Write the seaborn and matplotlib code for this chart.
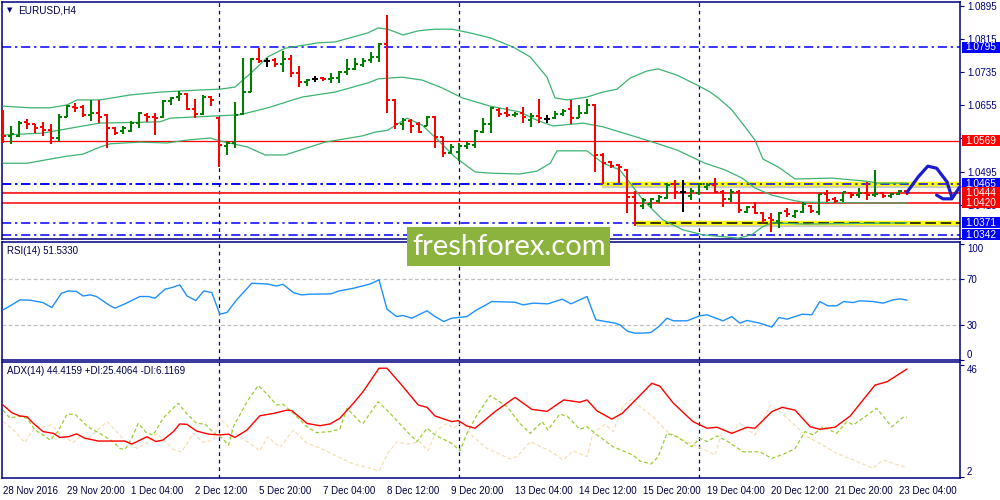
import numpy as np
import pandas as pd
import matplotlib
matplotlib.use('Agg')
import matplotlib.pyplot as plt
import matplotlib.transforms as mtransforms
from matplotlib.patches import Rectangle
import seaborn as sns

sns.set_style('white')
plt.rcParams['font.family'] = ['Liberation Sans', 'DejaVu Sans']

# ---------------- data (EURUSD H4) ----------------
opens = [1.0639, 1.0581, 1.0581, 1.0615, 1.0610, 1.0603, 1.0595, 1.0576, 1.0627, 1.0651,
         1.0651, 1.0632, 1.0636, 1.0632, 1.0600, 1.0593, 1.0593, 1.0612, 1.0632, 1.0627,
         1.0627, 1.0665, 1.0675, 1.0682, 1.0646, 1.0634, 1.0675, 1.0624, 1.0557, 1.0564,
         1.0634, 1.0687, 1.0767, 1.0762, 1.0764, 1.0755, 1.0767, 1.0733, 1.0711, 1.0719,
         1.0721, 1.0719, 1.0721, 1.0735, 1.0743, 1.0752, 1.0764, 1.0772, 1.0803, 1.0668,
         1.0610, 1.0617, 1.0610, 1.0605, 1.0627, 1.0578, 1.0540, 1.0542, 1.0557, 1.0559,
         1.0590, 1.0610, 1.0644, 1.0636, 1.0632, 1.0636, 1.0619, 1.0629, 1.0622, 1.0624,
         1.0634, 1.0646, 1.0624, 1.0636, 1.0656, 1.0535, 1.0518, 1.0511, 1.0499, 1.0433,
         1.0412, 1.0417, 1.0424, 1.0431, 1.0465, 1.0445, 1.0436, 1.0443, 1.0458, 1.0462,
         1.0445, 1.0429, 1.0445, 1.0397, 1.0409, 1.0395, 1.0383, 1.0375, 1.0400, 1.0387,
         1.0397, 1.0412, 1.0397, 1.0441, 1.0429, 1.0426, 1.0443, 1.0438, 1.0443, 1.0438,
         1.0443, 1.0436, 1.0441, 1.0448]
highs = [1.0644, 1.0605, 1.0617, 1.0622, 1.0610, 1.0615, 1.0610, 1.0634, 1.0656, 1.0661,
         1.0656, 1.0668, 1.0668, 1.0634, 1.0603, 1.0605, 1.0617, 1.0639, 1.0636, 1.0636,
         1.0668, 1.0675, 1.0690, 1.0685, 1.0670, 1.0680, 1.0677, 1.0627, 1.0566, 1.0663,
         1.0769, 1.0769, 1.0793, 1.0769, 1.0769, 1.0786, 1.0777, 1.0750, 1.0719, 1.0726,
         1.0723, 1.0733, 1.0738, 1.0767, 1.0769, 1.0769, 1.0784, 1.0806, 1.0873, 1.0670,
         1.0624, 1.0622, 1.0615, 1.0629, 1.0629, 1.0578, 1.0562, 1.0564, 1.0566, 1.0595,
         1.0624, 1.0651, 1.0649, 1.0651, 1.0639, 1.0651, 1.0636, 1.0670, 1.0632, 1.0641,
         1.0646, 1.0668, 1.0656, 1.0670, 1.0658, 1.0540, 1.0520, 1.0513, 1.0501, 1.0448,
         1.0431, 1.0431, 1.0438, 1.0467, 1.0474, 1.0474, 1.0455, 1.0467, 1.0467, 1.0479,
         1.0450, 1.0453, 1.0450, 1.0412, 1.0421, 1.0397, 1.0395, 1.0397, 1.0407, 1.0402,
         1.0421, 1.0414, 1.0441, 1.0450, 1.0433, 1.0445, 1.0445, 1.0455, 1.0470, 1.0499,
         1.0445, 1.0443, 1.0450, 1.0450]
lows = [1.0564, 1.0562, 1.0578, 1.0598, 1.0588, 1.0581, 1.0562, 1.0569, 1.0627, 1.0639,
        1.0627, 1.0617, 1.0612, 1.0552, 1.0583, 1.0586, 1.0590, 1.0600, 1.0615, 1.0583,
        1.0624, 1.0656, 1.0665, 1.0644, 1.0624, 1.0632, 1.0653, 1.0506, 1.0535, 1.0552,
        1.0632, 1.0687, 1.0757, 1.0748, 1.0748, 1.0735, 1.0723, 1.0699, 1.0702, 1.0711,
        1.0714, 1.0709, 1.0709, 1.0728, 1.0740, 1.0748, 1.0757, 1.0760, 1.0636, 1.0598,
        1.0595, 1.0588, 1.0588, 1.0605, 1.0552, 1.0530, 1.0537, 1.0520, 1.0549, 1.0552,
        1.0588, 1.0588, 1.0627, 1.0627, 1.0627, 1.0612, 1.0603, 1.0612, 1.0612, 1.0622,
        1.0629, 1.0610, 1.0624, 1.0634, 1.0494, 1.0465, 1.0503, 1.0467, 1.0395, 1.0363,
        1.0404, 1.0407, 1.0419, 1.0429, 1.0429, 1.0397, 1.0426, 1.0438, 1.0450, 1.0443,
        1.0409, 1.0421, 1.0395, 1.0395, 1.0392, 1.0371, 1.0349, 1.0358, 1.0385, 1.0383,
        1.0395, 1.0395, 1.0390, 1.0421, 1.0419, 1.0421, 1.0431, 1.0431, 1.0426, 1.0433,
        1.0431, 1.0431, 1.0438, 1.0438]
closes = [1.0581, 1.0586, 1.0612, 1.0610, 1.0600, 1.0595, 1.0576, 1.0627, 1.0653, 1.0649,
          1.0632, 1.0636, 1.0627, 1.0600, 1.0588, 1.0600, 1.0612, 1.0636, 1.0627, 1.0624,
          1.0665, 1.0673, 1.0682, 1.0646, 1.0634, 1.0675, 1.0668, 1.0559, 1.0564, 1.0632,
          1.0687, 1.0767, 1.0762, 1.0762, 1.0755, 1.0767, 1.0733, 1.0711, 1.0716, 1.0719,
          1.0719, 1.0721, 1.0735, 1.0743, 1.0755, 1.0762, 1.0772, 1.0803, 1.0668, 1.0610,
          1.0619, 1.0605, 1.0590, 1.0627, 1.0578, 1.0540, 1.0554, 1.0557, 1.0562, 1.0593,
          1.0610, 1.0649, 1.0634, 1.0632, 1.0634, 1.0627, 1.0629, 1.0624, 1.0622, 1.0634,
          1.0641, 1.0624, 1.0636, 1.0656, 1.0535, 1.0515, 1.0508, 1.0506, 1.0433, 1.0419,
          1.0426, 1.0429, 1.0433, 1.0462, 1.0445, 1.0445, 1.0448, 1.0465, 1.0462, 1.0445,
          1.0429, 1.0445, 1.0402, 1.0409, 1.0395, 1.0378, 1.0378, 1.0395, 1.0392, 1.0400,
          1.0417, 1.0400, 1.0441, 1.0426, 1.0424, 1.0445, 1.0438, 1.0443, 1.0438, 1.0441,
          1.0436, 1.0441, 1.0448, 1.0443]

# Bollinger bands (bar index, price)
ub_idx = [0, 3.4, 5.9, 8, 9.25, 12.1, 15.9, 19.6, 24.6, 27.1, 29, 31.1, 33.1, 35.25, 39.4,
          41.5, 45.6, 46.9, 48.1, 50, 51.9, 54, 56.1, 58.4, 60.9, 63.75, 65.9, 68, 69, 70.5,
          73, 75, 76.75, 78.4, 80.5, 81.9, 84.25, 86.75, 88.4, 89.4, 91.1, 92.75, 94, 95, 96.9,
          99, 103.6, 107.75, 109.4, 113]
ub_val = [1.0653, 1.0649, 1.0649, 1.0656, 1.0668, 1.0668, 1.0680, 1.0687, 1.0692, 1.0694,
          1.0699, 1.0735, 1.0772, 1.0793, 1.0806, 1.0808, 1.0830, 1.0842, 1.0839, 1.0825,
          1.0835, 1.0839, 1.0839, 1.0830, 1.0818, 1.0796, 1.0772, 1.0723, 1.0673, 1.0668,
          1.0675, 1.0687, 1.0694, 1.0721, 1.0738, 1.0743, 1.0728, 1.0704, 1.0687, 1.0673,
          1.0644, 1.0603, 1.0571, 1.0525, 1.0506, 1.0477, 1.0479, 1.0472, 1.0467, 1.0467]
mb_idx = [0, 5, 10, 12.1, 19.6, 20.9, 26.25, 29.6, 33.1, 37.4, 41.5, 45.6, 46.9, 49.9, 52.4,
          54.9, 57.4, 60.9, 64.6, 66.75, 68.75, 72.5, 75, 78.4, 81.25, 84.25, 87.75, 90.25,
          92.4, 94, 96.1, 98.6, 99.9, 108.6, 113]
mb_val = [1.0583, 1.0588, 1.0605, 1.0612, 1.0615, 1.0624, 1.0629, 1.0632, 1.0649, 1.0675,
          1.0687, 1.0709, 1.0719, 1.0723, 1.0716, 1.0697, 1.0673, 1.0653, 1.0639, 1.0619,
          1.0605, 1.0612, 1.0603, 1.0583, 1.0566, 1.0547, 1.0515, 1.0499, 1.0479, 1.0455,
          1.0438, 1.0426, 1.0421, 1.0419, 1.0419]
lb_idx = [0, 3, 5.9, 8, 10, 12.1, 13.4, 17.1, 20.5, 23, 25.9, 27.1, 30.6, 32.75, 35.25, 40.25,
          44.9, 46.5, 48.1, 50.5, 52.4, 54, 56.5, 59, 60.9, 64.6, 66.75, 68.4, 69.25, 73, 75,
          77.1, 78.4, 80, 82.5, 85, 87.5, 91.9, 93.6, 94.9, 96.1, 100.25, 113]
lb_val = [1.0515, 1.0515, 1.0525, 1.0532, 1.0537, 1.0554, 1.0562, 1.0566, 1.0564, 1.0571,
          1.0576, 1.0569, 1.0554, 1.0535, 1.0535, 1.0566, 1.0581, 1.0590, 1.0595, 1.0624,
          1.0607, 1.0578, 1.0530, 1.0494, 1.0491, 1.0489, 1.0496, 1.0515, 1.0545, 1.0545,
          1.0515, 1.0499, 1.0467, 1.0426, 1.0378, 1.0354, 1.0342, 1.0334, 1.0342, 1.0361,
          1.0371, 1.0368, 1.0371]

# RSI(14)
rsi_idx = [0, 1.1, 2.1, 3.4, 5, 6.1, 7.3, 8.2, 9.2, 10, 10.9, 11.7, 13.4, 14, 15.25, 17.1,
           18.2, 19, 20.25, 21.1, 22.1, 23, 24.1, 25.1, 26.1, 27.1, 28, 29.2, 31.1, 33, 34.2,
           35, 36.3, 37.3, 38.4, 41, 42, 43.8, 45.9, 47, 48, 49.2, 50, 51.1, 53, 54, 55.1,
           56.1, 58, 59.2, 60, 61.1, 64, 65, 66.25, 68.1, 69.9, 71, 73, 74.1, 75.5, 76.5, 77.1,
           78.1, 79, 80, 81, 82, 83, 83.8, 85.5, 87.1, 88, 90, 91.1, 92.1, 93, 94.6, 96.1, 97,
           98, 99.9, 101.1, 102.1, 103.1, 104.2, 105.1, 106.25, 107.1, 108.75, 110, 111.25,
           112.1, 113]
rsi_val = [43.1, 47.4, 51.7, 51.4, 49.4, 45.1, 57.4, 59.4, 58.9, 55.1, 56.0, 54.6, 46.6, 44.6,
           48.3, 54.6, 54.6, 53.1, 60.9, 62.3, 64.6, 55.1, 51.1, 59.4, 58.0, 39.4, 40.9, 51.7,
           66.0, 65.4, 63.7, 65.1, 58.0, 56.0, 56.6, 56.9, 59.4, 61.7, 65.4, 68.9, 43.7, 37.4,
           38.3, 36.0, 42.3, 37.4, 33.1, 36.0, 37.4, 43.1, 46.0, 50.3, 49.7, 47.4, 48.9, 48.3,
           52.3, 48.3, 54.6, 34.6, 32.9, 31.7, 30.3, 24.6, 23.1, 23.1, 23.7, 28.9, 36.0, 33.7,
           33.7, 38.0, 38.9, 33.7, 37.4, 31.7, 34.0, 31.7, 28.3, 36.6, 35.1, 39.4, 38.9, 50.3,
           46.6, 46.6, 50.3, 49.4, 50.9, 50.3, 48.9, 51.7, 52.6, 51.5]

# ADX(14), +DI, -DI
adx_idx = [0, 1.1, 2.1, 3, 3.8, 5, 6.3, 7.1, 8.2, 9.2, 10.25, 11.9, 15.25, 16.1, 18, 19.1, 20,
           21.3, 22.1, 23, 24.2, 25.7, 27.1, 28.2, 29, 30.5, 32.1, 33.8, 35.5, 36.1, 38, 39.6,
           40.9, 42.1, 43.8, 45, 47, 48, 50, 51.9, 53, 54, 56.1, 56.9, 58, 59, 61.5, 64, 66.1,
           68, 70.1, 72.1, 73, 74.25, 76.1, 77.4, 81.1, 82.1, 83.8, 86.25, 88, 89.25, 91.1, 93,
           94, 96.1, 97.4, 99, 100.9, 102.1, 104, 105.9, 109, 110.5, 113]
adx_val = [30.3, 27.3, 26.0, 25.7, 23.1, 19.9, 19.2, 17.6, 17.9, 19.0, 17.3, 16.2, 16.2, 15.0,
           17.9, 16.0, 16.6, 19.9, 22.9, 22.7, 20.1, 18.9, 18.6, 18.9, 17.6, 20.5, 26.1, 27.0,
           28.3, 28.1, 23.1, 22.2, 22.9, 25.1, 31.0, 35.5, 44.7, 44.7, 37.5, 30.3, 29.4, 26.0,
           23.8, 24.2, 22.1, 21.2, 27.7, 33.3, 28.6, 27.8, 32.3, 31.4, 32.3, 28.0, 24.8, 27.0,
           38.8, 37.7, 31.0, 23.8, 21.2, 21.6, 19.2, 21.6, 21.2, 27.7, 29.4, 28.3, 21.8, 20.8,
           21.6, 26.0, 38.1, 39.4, 44.4]
pdi_idx = [0, 0.9, 1.9, 3, 4, 5, 5.9, 6.9, 8, 9, 10.6, 12.1, 13.8, 14.6, 15.25, 16.1, 16.9, 18,
           18.8, 20, 21.9, 23, 24.2, 25.25, 26.3, 27.4, 28.2, 28.8, 30.5, 31.9, 33, 34.2, 35,
           36.3, 38, 39.2, 40.9, 42.1, 43, 44.6, 45, 46.9, 48.4, 50.5, 51.75, 53, 54, 56.1,
           57.1, 58, 59.25, 60.9, 63, 64.6, 65.9, 67.4, 68.1, 69.6, 70.6, 72.1, 73, 74.25,
           76.25, 78.75, 79.6, 81, 81.9, 83, 84.25, 86.1, 87.1, 88, 89.25, 90.6, 92.5, 94.6,
           96.1, 98, 99, 100.25, 101.25, 102.5, 104.2, 105.5, 106.3, 109.2, 111.1, 112.5, 113]
pdi_val = [28.3, 25.1, 26.0, 25.1, 20.5, 18.6, 16.6, 20.1, 26.7, 26.7, 21.8, 19.2, 15.9, 13.3,
           12.9, 17.3, 23.1, 19.2, 18.6, 25.1, 31.0, 26.8, 23.1, 22.9, 19.5, 17.3, 14.6, 21.8,
           31.6, 37.9, 34.6, 30.3, 30.6, 27.0, 21.8, 19.5, 19.9, 20.9, 29.0, 23.8, 23.1, 31.6,
           27.0, 19.9, 16.0, 21.2, 18.6, 15.3, 12.4, 19.2, 26.4, 34.0, 29.7, 23.1, 19.2, 23.8,
           20.5, 26.8, 25.7, 20.8, 21.8, 18.6, 14.0, 10.7, 8.4, 7.2, 10.1, 19.2, 17.9, 14.0,
           17.3, 16.0, 18.2, 16.0, 12.0, 12.0, 9.4, 11.6, 13.3, 19.9, 18.6, 21.8, 19.2, 23.8,
           22.5, 29.0, 21.8, 25.5, 25.4]
mdi_idx = [0, 1.3, 2.75, 4, 5, 6.1, 7.1, 8.8, 9.6, 10.5, 13, 14.2, 15.5, 16.75, 18, 19.25, 21.3,
           22.3, 23.8, 25, 26.3, 27.1, 28.8, 30.5, 32.1, 33.1, 34.6, 36.3, 38, 39.6, 41.7, 43.8,
           45.5, 47, 48.1, 49.25, 50.5, 52.1, 53.1, 54.25, 55.5, 56.25, 57.4, 58.75, 60.5, 63.4,
           64.25, 65.9, 68.4, 70, 71.25, 73, 73.75, 75.25, 76.25, 77.5, 78.75, 79.6, 81.25, 83,
           85, 87.4, 89, 90, 90.9, 92.1, 94, 95.9, 97.1, 98.75, 100.5, 102.1, 104.2, 106.3,
           108.75, 110, 112.5, 113]
mdi_val = [23.8, 20.5, 15.6, 21.8, 21.8, 22.5, 18.8, 15.6, 17.9, 16.9, 23.8, 19.9, 15.3, 13.3,
           15.3, 19.2, 12.9, 11.9, 19.2, 15.7, 16.6, 25.1, 19.9, 16.0, 12.4, 17.9, 13.7, 20.5,
           15.3, 13.5, 10.3, 7.2, 5.9, 4.5, 11.4, 15.9, 15.0, 15.9, 12.4, 20.5, 23.1, 21.2,
           23.4, 17.9, 13.3, 9.2, 10.1, 15.9, 12.3, 8.8, 12.3, 10.1, 19.2, 22.7, 19.9, 30.0,
           32.9, 29.7, 25.7, 19.9, 16.6, 13.3, 10.7, 21.2, 19.0, 23.1, 18.6, 30.0, 27.7, 23.1,
           17.9, 15.3, 11.4, 8.8, 5.5, 8.8, 6.2, 6.1]

# x-axis labels (every 8 bars)
tick_labels = ['28 Nov 2016', '29 Nov 20:00', '1 Dec 04:00', '2 Dec 12:00', '5 Dec 20:00',
               '7 Dec 04:00', '8 Dec 12:00', '9 Dec 20:00', '13 Dec 04:00', '14 Dec 12:00',
               '15 Dec 20:00', '19 Dec 04:00', '20 Dec 12:00', '21 Dec 20:00', '23 Dec 04:00']
week_starts = [27, 57, 87]

# horizontal levels
level_prices = [1.0795, 1.0569, 1.0465, 1.0444, 1.0420, 1.0371, 1.0342]
level_colors = ['#0000ff', '#ff0000', '#0000ff', '#ff0000', '#ff0000', '#0000ff', '#0000ff']
bid_price = 1.0446
price_ticks = [1.0895, 1.0815, 1.0735, 1.0655, 1.0575, 1.0495, 1.0415, 1.0335]
hidden_ticks = [1.0575, 1.0335]   # fully covered by level boxes in the original

# range (yellow) and forecast path
range_top, range_top_start = 1.0465, 74.6
range_bot, range_bot_start = 1.0371, 79.0
fc_idx = [113, 114.4, 115.6, 116.7, 118, 118.6]
fc_val = [1.0445, 1.0482, 1.0508, 1.0503, 1.0470, 1.0433]
hook_idx = [116.7, 117.5, 118.6, 119.6]
hook_val = [1.0438, 1.0429, 1.0429, 1.0458]

# ---------------- figure ----------------
NAVY = '#000080'
GREEN = '#008000'
RED = '#ff0000'
XL = (-0.125, 119.625)
PX = 4137.5  # pixels per 1.0 price
AXW = 0.958

fig = plt.figure(figsize=(10, 5), dpi=100)
fig.patch.set_facecolor('white')
ax = fig.add_axes([0.002, 0.522, AXW, 0.474])
ax_r = fig.add_axes([0.002, 0.280, AXW, 0.236])
ax_a = fig.add_axes([0.002, 0.044, AXW, 0.232])

for a in (ax, ax_r, ax_a):
    a.set_xlim(*XL)
    a.set_facecolor('white')
    for s in a.spines.values():
        s.set_color(NAVY)
        s.set_linewidth(1.1)
    a.yaxis.tick_right()
    a.tick_params(axis='y', which='both', direction='out', length=3, width=0.8,
                  colors=NAVY, labelsize=7, pad=2)
    for w in week_starts:
        a.axvline(w, color=NAVY, ls=(0, (3, 3)), lw=0.9, zorder=1)

# ---- main panel ----
ax.set_ylim(1.03319, 1.09047)
ax.set_yticks(price_ticks)
ax.set_yticklabels(['' if p in hidden_ticks else f'{p:.4f}' for p in price_ticks])
ax.set_xticks([])

for p, col in zip(level_prices, level_colors):
    if col == '#0000ff':
        ax.axhline(p, color=col, lw=1.1, ls=(0, (6, 2.5, 1.5, 2.5)), zorder=2)
    else:
        ax.axhline(p, color=col, lw=1.1 if p != 1.0569 else 0.9, zorder=2)
ax.axhline(bid_price, color='#c8c8c8', lw=0.9, zorder=1.5)

# yellow range lines with shadow
for y0, x0 in ((range_top, range_top_start), (range_bot, range_bot_start)):
    ax.plot([x0 + 0.3, XL[1]], [y0 - 2.0 / PX, y0 - 2.0 / PX], color='#a0a0a0', lw=3,
            alpha=0.55, solid_capstyle='butt', zorder=2.2)
    ax.plot([x0, XL[1]], [y0, y0], color='#ffff00', lw=3.2, solid_capstyle='butt', zorder=2.4)
ax.axhline(range_top, color='#0000ff', lw=1.1, ls=(0, (6, 2.5, 1.5, 2.5)), zorder=2.6)
ax.plot([range_bot_start, XL[1]], [range_bot, range_bot], color='black', lw=1.1,
        ls=(0, (7, 3)), zorder=2.6)

# Bollinger bands
for bi, bv in ((ub_idx, ub_val), (mb_idx, mb_val), (lb_idx, lb_val)):
    sns.lineplot(x=bi, y=bv, ax=ax, color='#3cb371', lw=0.9, estimator=None, sort=False,
                 zorder=3, legend=False)

# OHLC bars
idx = np.arange(len(opens))
o, h, l, c = (np.array(v) for v in (opens, highs, lows, closes))
cols = np.where(c > o + 1e-9, GREEN, np.where(c < o - 1e-9, RED, 'black'))
ax.vlines(idx, l, h, colors=cols, lw=1.45, zorder=5)
ax.hlines(o, idx - 0.42, idx, colors=cols, lw=1.45, zorder=5)
ax.hlines(c, idx, idx + 0.42, colors=cols, lw=1.45, zorder=5)

# forecast path
ax.plot(fc_idx, fc_val, color='#1c1ccf', lw=2.3, solid_capstyle='round', clip_on=False, zorder=8)
ax.plot(hook_idx, hook_val, color='#1c1ccf', lw=2.3, solid_capstyle='round', clip_on=False, zorder=8)

# price boxes on right axis
btr = mtransforms.blended_transform_factory(ax.transAxes, ax.transData)
bh = 11.0 / PX
bx0 = 2.0 / (AXW * 1000) + 1.0
bw = 38.0 / (AXW * 1000)
for p, col in zip(level_prices, level_colors):
    ax.add_patch(Rectangle((bx0, p - bh / 2), bw, bh, transform=btr, facecolor=col,
                           edgecolor='none', clip_on=False, zorder=20))
    ax.text(bx0 + bw / 2, p, f'{p:.4f}', transform=btr, ha='center', va='center', color='white',
            fontsize=7.3, clip_on=False, zorder=21)

ax.text(0.0085, 0.966, '\u25BC', transform=ax.transAxes, fontsize=5, color=NAVY,
        family=['DejaVu Sans'], ha='center', va='center')
ax.text(0.0167, 0.966, 'EURUSD,H4', transform=ax.transAxes, fontsize=7.2, color='#000050',
        ha='left', va='center')

# ---- RSI panel ----
ax_r.set_ylim(0.3, 101.5)
for lv in (70, 30):
    ax_r.axhline(lv, color='#c0c0c0', lw=0.9, ls=(0, (3, 2)), zorder=1)
sns.lineplot(x=rsi_idx, y=rsi_val, ax=ax_r, color='#1e90ff', lw=1.0, estimator=None,
             sort=False, legend=False, zorder=3)
ax_r.set_yticks([100, 70, 30, 0])
ax_r.set_yticklabels(['100', '70', '30', '0'])
ytl = ax_r.get_yticklabels()
ytl[0].set_va('top')
ytl[3].set_va('bottom')
ax_r.set_xticks([])
ax_r.text(0.005, 0.924, 'RSI(14) 51.5330', transform=ax_r.transAxes, fontsize=7,
          color='#000050', ha='left', va='center')

# ---- ADX panel ----
ax_a.set_ylim(1.73, 47.14)
sns.lineplot(x=mdi_idx, y=mdi_val, ax=ax_a, color='#f5deb3', lw=0.9, estimator=None,
             sort=False, legend=False, linestyle=(0, (3, 2)), zorder=2)
sns.lineplot(x=pdi_idx, y=pdi_val, ax=ax_a, color='#9acd32', lw=0.9, estimator=None,
             sort=False, legend=False, linestyle=(0, (3, 2)), zorder=2.5)
sns.lineplot(x=adx_idx, y=adx_val, ax=ax_a, color='#ff0000', lw=1.0, estimator=None,
             sort=False, legend=False, zorder=3)
ax_a.set_yticks([46, 2])
ax_a.set_yticklabels(['46', '2'])
atl = ax_a.get_yticklabels()
atl[0].set_va('top')
atl[1].set_va('bottom')
ax_a.text(0.005, 0.922, 'ADX(14) 44.4159 +DI:25.4064 -DI:6.1169', transform=ax_a.transAxes,
          fontsize=7, color='#000050', ha='left', va='center')

xt = list(range(0, 8 * len(tick_labels), 8))
ax_a.set_xticks(xt)
ax_a.set_xticklabels(tick_labels)
ax_a.tick_params(axis='x', direction='out', length=4, width=0.8, colors=NAVY,
                 labelsize=7, pad=2, labelcolor='#000040')
for lab in ax_a.get_xticklabels():
    lab.set_ha('left')

for a in (ax, ax_r, ax_a):
    a.set_xlabel('')
    a.set_ylabel('')

# ---- watermark ----
fig.add_artist(Rectangle((0.407, 0.468), 0.203, 0.078, transform=fig.transFigure,
                         facecolor='#8db33f', edgecolor='none', zorder=30))
fig.text(0.5095, 0.506, 'freshforex.com', fontsize=21, color='white', family=['Lato', 'DejaVu Sans'],
         ha='center', va='center', zorder=31)

fig.savefig('out.png', dpi=100, facecolor='white')
